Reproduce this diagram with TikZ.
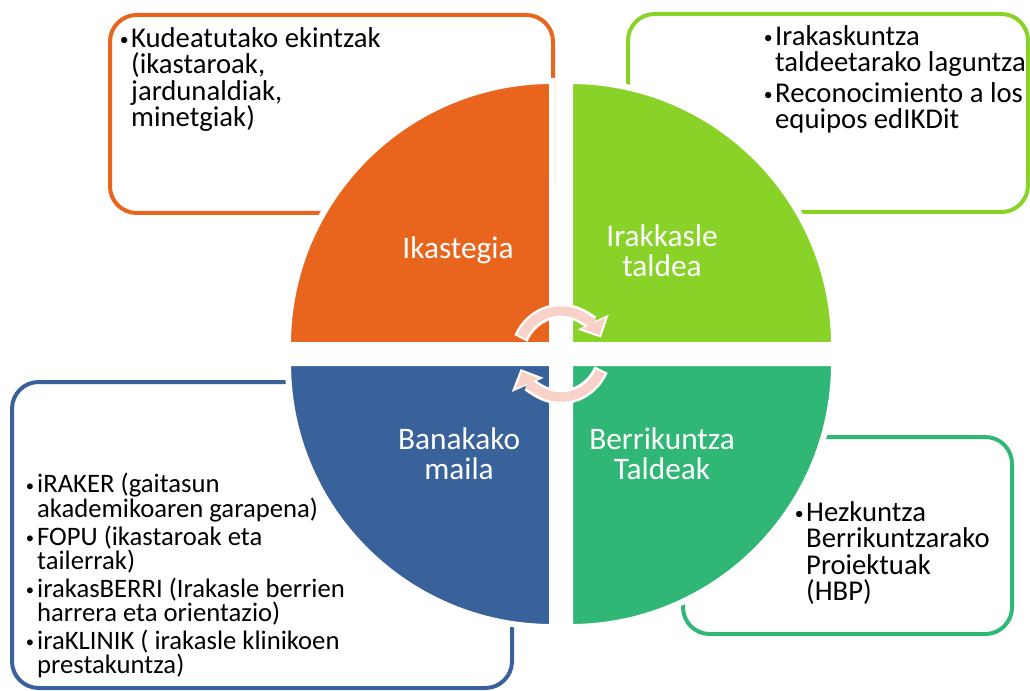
\documentclass[tikz,border=0pt]{standalone}
\usepackage{fontspec}
\usepackage{graphicx}
\setmainfont{Carlito}
\usetikzlibrary{arrows.meta}

\definecolor{ikasOrange}{RGB}{233,101,30}
\definecolor{taldeGreen}{RGB}{137,211,40}
\definecolor{banaBlue}{RGB}{58,98,154}
\definecolor{berriGreen}{RGB}{49,183,117}
\definecolor{cyclePink}{RGB}{248,210,200}

\newcommand{\itembul}{\makebox[9.5pt][l]{\hspace*{1pt}\raisebox{0.06em}{\scalebox{0.62}{\textbullet}}}}
\newcommand{\itemcont}{\hspace*{9.5pt}}

\tikzset{every picture/.style={line width=0.75pt}}
\tikzset{
  infobox/.style={line width=3pt, rounded corners=20pt},
  quarter/.style={draw=white, line width=4.5pt},
  qlabel/.style={text=white, font=\fontsize{23.5}{22.5}\selectfont, align=center, inner sep=0pt},
  listtext/.style={font=\fontsize{21.5}{19.8}\selectfont, align=left, anchor=north west, inner sep=0pt},
  smalllist/.style={listtext, font=\fontsize{20}{18.3}\selectfont},
  cyclerim/.style={draw=white, line width=11pt, -{Triangle[length=13pt,width=26pt,line width=0pt]}, shorten >=-2pt, shorten <=-1.5pt},
  cyclebody/.style={draw=cyclePink, line width=7pt, -{Triangle[length=10pt,width=19pt,line width=0pt]}},
}

\begin{document}
\begin{tikzpicture}[x=0.75pt,y=0.75pt,yscale=-1,xscale=1]
\useasboundingbox (0,0) rectangle (1030,691);

%Boxes behind the circle
\draw [infobox, draw=ikasOrange] (110,15) rectangle (553,213);
\draw [infobox, draw=taldeGreen] (628,14) rectangle (1028,212);
\draw [infobox, draw=banaBlue] (12,382) rectangle (512,688);
\draw [infobox, draw=berriGreen] (683,437) rectangle (1012,634);

%Quarters of the circle
\filldraw [quarter, fill=ikasOrange] (552,345) -- (552,81) arc[start angle=-90, end angle=-180, radius=264] -- cycle;
\filldraw [quarter, fill=taldeGreen] (570,345) -- (570,81) arc[start angle=-90, end angle=0, radius=264] -- cycle;
\filldraw [quarter, fill=banaBlue] (552,363) -- (288,363) arc[start angle=180, end angle=90, radius=264] -- cycle;
\filldraw [quarter, fill=berriGreen] (570,363) -- (834,363) arc[start angle=0, end angle=90, radius=264] -- cycle;

%Cycle arrows in the middle
\coordinate (hub) at (561,354);
\draw [cyclerim] (hub) ++(-156:43) arc[start angle=-156, end angle=-26, radius=43];
\draw [cyclebody] (hub) ++(-156:43) arc[start angle=-156, end angle=-26, radius=43];
\draw [cyclerim] (hub) ++(24:43) arc[start angle=24, end angle=156, radius=43];
\draw [cyclebody] (hub) ++(24:43) arc[start angle=24, end angle=156, radius=43];

% Text Node
\node [qlabel] (ikastegia) at (458,250) {Ikastegia};
% Text Node
\node [qlabel] (irakasle) at (662,251) {Irakkasle\\taldea};
% Text Node
\node [qlabel] (banakako) at (459,454) {Banakako\\maila};
% Text Node
\node [qlabel] (berrikuntza) at (662,454) {Berrikuntza\\Taldeak};

% Text Node
\node [listtext] (ikasList) at (118,27) {\itembul Kudeatutako ekintzak\\\itemcont(ikastaroak,\\\itemcont jardunaldiak,\\\itemcont minetgiak)};
% Text Node
\node [listtext] (taldeList) at (762,25) {\itembul Irakaskuntza\\\itemcont taldeetarako laguntza\\[3pt]\itembul Reconocimiento a los\\\itemcont equipos edIKDit};
% Text Node
\node [smalllist] (banaList) at (24,473) {\itembul iRAKER (gaitasun\\\itemcont akademikoaren garapena)\\[2.5pt]\itembul FOPU (ikastaroak eta\\\itemcont tailerrak)\\[2.5pt]\itembul irakasBERRI (Irakasle berrien\\\itemcont harrera eta orientazio)\\[2.5pt]\itembul iraKLINIK ( irakasle klinikoen\\\itemcont prestakuntza)};
% Text Node
\node [listtext] (berriList) at (793,501) {\itembul Hezkuntza\\\itemcont Berrikuntzarako\\\itemcont Proiektuak\\\itemcont (HBP)};

\end{tikzpicture}
\end{document}
